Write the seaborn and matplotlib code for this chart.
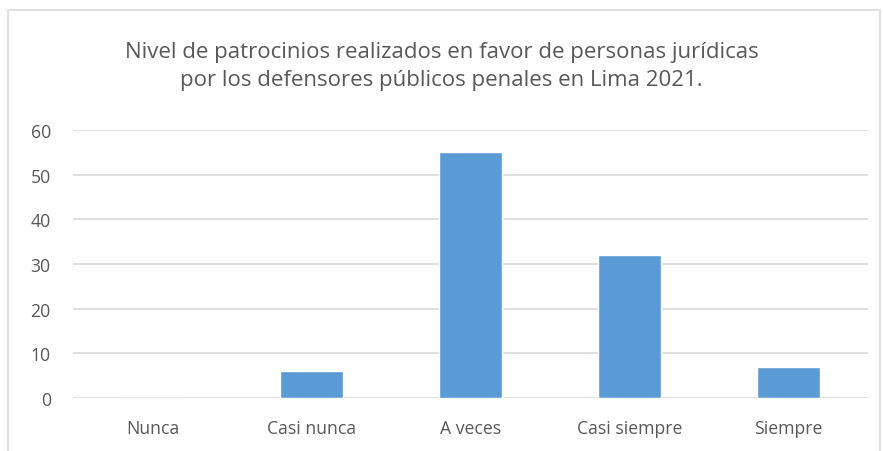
import seaborn as sns
import matplotlib.pyplot as plt
import pandas as pd
from matplotlib.patches import Rectangle

categorias = ["Nunca", "Casi nunca", "A veces", "Casi siempre", "Siempre"]
frecuencias = [0, 6, 55, 32, 7]
titulo = "Nivel de patrocinios realizados en favor de personas jurídicas\npor los defensores públicos penales en Lima 2021."

df = pd.DataFrame({"Categoria": categorias, "Frecuencia": frecuencias})

sns.set_style("white")
plt.rcParams['font.family'] = ['Open Sans', 'DejaVu Sans']

fig = plt.figure(figsize=(8.83, 4.52), dpi=100)
ax = fig.add_axes([0.0827, 0.1173, 0.9003, 0.5927])

sns.barplot(x="Categoria", y="Frecuencia", data=df, color="#5B9BD5",
            width=0.4, saturation=1, ax=ax, zorder=3)

ax.set_ylim(0, 60)
ax.set_yticks(range(0, 61, 10))
ax.set_xlim(-0.5, 4.5)
ax.grid(axis="y", color="#D9D9D9", linewidth=1.2, zorder=0)
for s in ax.spines.values():
    s.set_visible(False)
ax.set_xlabel("")
ax.set_ylabel("")
ax.tick_params(axis="both", length=0, labelsize=12.7, colors="#595959")
ax.tick_params(axis="x", pad=15)
ax.tick_params(axis="y", pad=16)

fig.text(0.5, 0.852, titulo, ha="center", va="center", fontsize=16,
         color="#595959", linespacing=1.45)

fig.patches.append(Rectangle((0.009, -0.01), 0.988, 0.985, transform=fig.transFigure,
                             fill=False, edgecolor="#D9D9D9", linewidth=1.2))

fig.savefig("out.png", dpi=100)
